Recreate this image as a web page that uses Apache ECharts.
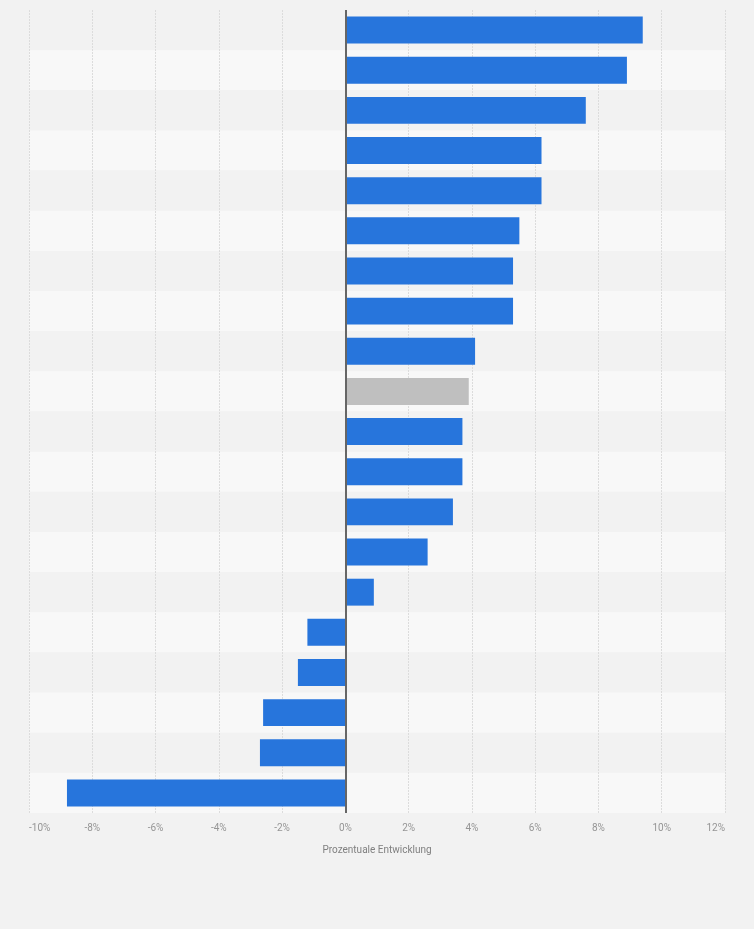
<!DOCTYPE html>
<html>
<head>
<meta charset="utf-8">
<script src="https://cdn.jsdelivr.net/npm/echarts@6/dist/echarts.min.js"></script>
<style>
  html, body { margin: 0; padding: 0; background: #f2f2f2; }
  #grafica { width: 754px; height: 929px; }
</style>
</head>
<body>
<div id="grafica"></div>
<script>
// categories (labels are not shown in the reference)
const categorias = [
  "K1", "K2", "K3", "K4", "K5", "K6", "K7", "K8", "K9", "K10",
  "K11", "K12", "K13", "K14", "K15", "K16", "K17", "K18", "K19", "K20"
];
// percentage change per category
const valores = [
  9.4, 8.9, 7.6, 6.2, 6.2, 5.5, 5.3, 5.3, 4.1, 3.9,
  3.7, 3.7, 3.4, 2.6, 0.9, -1.2, -1.5, -2.6, -2.7, -8.8
];
// which bar is highlighted in gray
const resaltado = ["K10"];
const tickMin = -10;
const tickMax = 12;
const tickStep = 2;

const getOptionChart = () => {
  return {
    backgroundColor: "#f2f2f2",
    animation: false,
    grid: { left: 29, right: 29, top: 10, bottom: 116, containLabel: false },
    xAxis: {
      type: "value",
      min: tickMin,
      max: tickMax,
      interval: tickStep,
      z: 1,
      name: "Prozentuale Entwicklung",
      nameLocation: "middle",
      nameGap: 32,
      nameTextStyle: { color: "#808080", fontSize: 10, fontFamily: "Roboto" },
      axisLine: { show: false },
      axisTick: { show: false },
      axisLabel: {
        color: "#959595",
        fontSize: 10,
        fontFamily: "Roboto",
        margin: 10,
        alignMinLabel: "left",
        alignMaxLabel: "right",
        formatter: (v) => v + "%",
      },
      splitLine: {
        show: true,
        lineStyle: { color: "#dcdcdc", type: [2, 1], width: 1 },
      },
    },
    yAxis: {
      type: "category",
      data: categorias,
      inverse: true,
      z: 0,
      axisLine: { show: false },
      axisTick: { show: false },
      axisLabel: { show: false },
      splitArea: { show: true, areaStyle: { color: ["#f2f2f2", "#f8f8f8"] } },
    },
    series: [
      {
        type: "bar",
        barWidth: "67%",
        z: 2,
        data: valores.map((v, i) => ({
          value: v,
          itemStyle: { color: resaltado.includes(categorias[i]) ? "#bfbfbf" : "#2775dc" },
        })),
        // zero line on top of the bars
        markLine: {
          silent: true,
          symbol: "none",
          label: { show: false },
          lineStyle: { color: "#666", width: 2, type: "solid" },
          data: [{ xAxis: 0 }],
        },
      },
    ],
  };
};

const initCharts = () => {
  const chart = echarts.init(document.querySelector("#grafica"));
  chart.setOption(getOptionChart());
};

initCharts();
</script>
</body>
</html>
